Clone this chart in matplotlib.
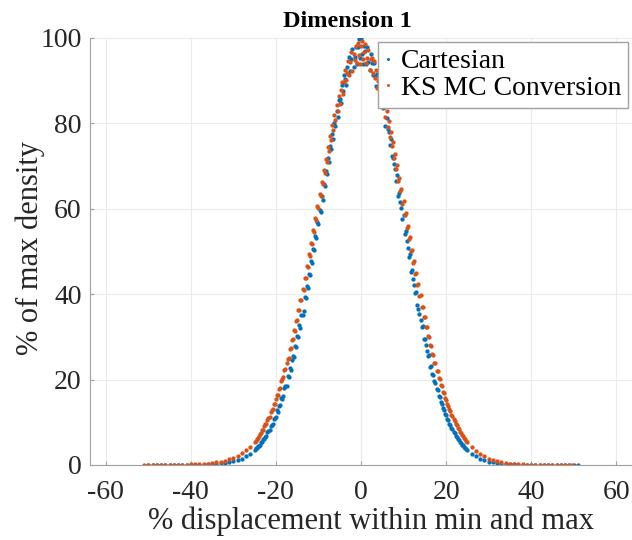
import numpy as np
import matplotlib
matplotlib.use("Agg")
from matplotlib import pyplot as plt

# Dados (densidade em % do maximo)
# Cartesian: caudas em passo 1, centro (-25 a 25) em passo 0.25
x_cart = np.concatenate([np.arange(-50, -25.5, 1.0), np.arange(-25, 25.1, 0.25), np.arange(26, 51.5, 1.0)])
y_cart_esq = [0.0, 0.0, 0.0, 0.0, 0.0, 0.01, 0.01, 0.02, 0.03, 0.04, 0.05, 0.06, 0.08, 0.1, 0.14,
              0.2, 0.28, 0.36, 0.5, 0.65, 0.85, 1.15, 1.5, 2.0, 2.65]
y_cart_meio = [3.4, 3.9, 3.9, 4.5, 4.5, 4.7, 5.3, 5.4,
               6.1, 6.0, 6.6, 6.8, 7.7, 7.9, 8.1, 9.2,
               9.4, 9.6, 10.8, 11.1, 11.3, 12.9, 12.5, 13.9,
               14.0, 15.6, 15.5, 16.1, 18.0, 18.4, 18.6, 20.9,
               20.5, 22.6, 22.3, 24.7, 25.5, 25.4, 27.9, 27.6,
               30.2, 30.0, 32.8, 32.2, 35.1, 35.2, 36.0, 39.4,
               39.0, 41.9, 41.5, 44.8, 44.5, 47.7, 47.2, 50.6,
               50.3, 53.6, 53.1, 56.8, 56.4, 59.7, 59.2, 62.9,
               62.1, 65.8, 65.3, 68.9, 68.2, 71.8, 71.0, 74.7,
               74.0, 77.5, 76.4, 80.2, 79.3, 82.9, 81.5, 85.4,
               85.7, 84.8, 89.0, 87.7, 91.4, 90.5, 89.1, 93.1,
               91.6, 95.6, 92.2, 95.1, 97.5, 93.2, 95.6, 98.0,
               93.9, 97.8, 99.8, 95.3, 100.0, 96.2, 94.0, 98.2,
               96.9, 93.9, 97.9, 94.3, 92.4, 96.3, 94.1, 91.3,
               94.2, 91.1, 88.7, 91.6, 88.6, 90.1, 85.7, 86.6,
               86.1, 83.6, 83.9, 79.4, 81.2, 78.6, 78.0, 75.0,
               76.4, 72.3, 72.0, 70.6, 69.4, 66.6, 68.0, 63.1,
               63.8, 61.5, 60.2, 57.6, 58.6, 54.1, 54.8, 52.4,
               50.9, 48.7, 49.3, 45.2, 45.6, 43.6, 42.1, 40.2,
               40.5, 37.5, 36.6, 35.3, 34.0, 32.4, 32.5, 29.6,
               29.6, 28.2, 26.8, 25.5, 25.7, 23.0, 23.3, 21.4,
               21.1, 19.6, 19.3, 17.9, 17.5, 16.2, 15.9, 14.7,
               14.4, 13.3, 12.9, 12.0, 11.7, 10.8, 10.5, 9.7,
               9.4, 8.6, 8.4, 7.7, 7.5, 6.9, 6.6, 6.1,
               5.9, 5.4, 5.2, 4.8, 4.6, 4.2, 4.0, 3.7,
               3.5]
y_cart_dir = [2.6, 2.0, 1.5, 1.1, 0.8, 0.6, 0.45, 0.32, 0.22, 0.16, 0.12, 0.08, 0.06, 0.05, 0.04,
              0.03, 0.02, 0.02, 0.02, 0.01, 0.01, 0.01, 0.0, 0.0, 0.0, 0.0]
y_cart = y_cart_esq + y_cart_meio + y_cart_dir

# KS MC Conversion
x_ks = np.concatenate([np.arange(-51, -25.5, 1.0), np.arange(-25, 25.1, 0.25), np.arange(26, 49.5, 1.0), [49.5]])
y_ks_esq = [0.0, 0.0, 0.01, 0.01, 0.02, 0.02, 0.03, 0.04, 0.05, 0.07, 0.09, 0.12, 0.15, 0.2,
            0.26, 0.34, 0.45, 0.6, 0.8, 1.0, 1.3, 1.7, 2.1, 2.7, 3.4, 4.3]
y_ks_meio = [5.5, 5.6, 6.2, 6.3, 6.9, 7.3, 7.4, 8.1,
             8.2, 9.1, 9.5, 9.6, 10.6, 10.9, 11.2, 12.4,
             12.8, 13.0, 14.3, 14.4, 15.5, 16.3, 16.4, 17.9,
             18.0, 19.6, 20.1, 20.5, 22.3, 22.4, 24.0, 24.8,
             25.1, 27.1, 27.3, 29.3, 29.4, 31.5, 31.3, 33.8,
             34.0, 36.2, 36.3, 38.6, 38.7, 41.2, 41.0, 43.8,
             43.9, 46.6, 46.4, 49.3, 49.0, 52.1, 51.8, 55.0,
             54.6, 57.8, 57.3, 60.6, 60.1, 63.4, 63.0, 66.3,
             65.7, 69.0, 68.4, 71.7, 71.0, 74.5, 73.6, 77.0,
             76.1, 79.6, 78.5, 81.9, 80.8, 84.4, 82.9, 86.5,
             84.5, 87.8, 89.6, 86.8, 89.8, 92.6, 90.1, 91.7,
             94.7, 91.4, 94.4, 96.8, 92.3, 96.3, 94.8, 98.2,
             94.2, 98.8, 96.0, 94.0, 98.1, 99.3, 95.1, 96.7,
             98.6, 94.1, 95.3, 97.3, 92.6, 95.1, 95.4, 91.7,
             94.6, 90.7, 92.5, 88.3, 90.0, 90.6, 87.0, 87.6,
             87.2, 83.8, 85.1, 81.5, 82.9, 79.2, 80.6, 76.9,
             78.0, 74.6, 75.6, 72.0, 72.9, 69.3, 70.3, 66.6,
             67.3, 64.1, 64.6, 61.1, 61.8, 58.5, 58.9, 55.6,
             56.0, 52.9, 53.3, 50.2, 50.4, 47.4, 47.7, 44.8,
             44.9, 42.2, 42.3, 39.6, 39.7, 37.1, 37.1, 34.7,
             34.7, 32.3, 32.3, 30.1, 30.0, 28.0, 27.9, 26.0,
             25.8, 24.0, 23.8, 22.1, 21.9, 20.4, 20.1, 18.7,
             18.4, 17.2, 16.8, 15.7, 15.3, 14.3, 13.9, 13.0,
             12.7, 11.8, 11.5, 10.7, 10.4, 9.7, 9.3, 8.7,
             8.4, 7.8, 7.5, 7.0, 6.7, 6.3, 6.0, 5.7,
             5.3]
y_ks_dir = [4.2, 3.3, 2.6, 2.0, 1.5, 1.15, 0.85, 0.62, 0.46, 0.34, 0.25, 0.18, 0.13, 0.1, 0.07,
            0.05, 0.04, 0.03, 0.02, 0.02, 0.01, 0.01, 0.0, 0.0, 0.0]
y_ks = y_ks_esq + y_ks_meio + y_ks_dir

series_names = ["Cartesian", "KS MC Conversion"]
x_ticks = [-60, -40, -20, 0, 20, 40, 60]
y_ticks = [0, 20, 40, 60, 80, 100]

plt.rcParams["font.family"] = ["Liberation Serif", "DejaVu Serif"]
plt.rcParams["axes.unicode_minus"] = False

W, H = 632, 540
fig = plt.figure(figsize=(W / 100, H / 100), dpi=100)
ax = fig.add_axes([90 / W, 75 / H, 542 / W, 427 / H])

ax.plot(x_cart, y_cart, "o", ms=3.1, mew=0, color="#0072BD", label=series_names[0])
ax.plot(x_ks, y_ks, "o", ms=3.1, mew=0, color="#D95319", label=series_names[1])

ax.set_xlim(-63.7, 63.7)
ax.set_ylim(0, 100)
ax.set_xticks(x_ticks)
ax.set_yticks(y_ticks)
ax.grid(True, color="#ebebeb", linewidth=0.8)
ax.set_axisbelow(True)

for s in ["top", "right"]:
    ax.spines[s].set_visible(False)
for s in ["left", "bottom"]:
    ax.spines[s].set_color("#a0a0a0")
ax.tick_params(direction="in", length=3, color="#a0a0a0", labelsize=20, labelcolor="#262626")
ax.tick_params(axis="x", pad=11)
ax.tick_params(axis="y", pad=6)

fig.text(347 / W, 1 - 27 / H, "Dimension 1", fontsize=17.5, fontweight="bold",
         ha="center", va="baseline", color="#000000")
ax.set_xlabel("% displacement within min and max", fontsize=22, color="#262626")
ax.xaxis.set_label_coords((371 - 90) / 542, (465 - 507) / 427)
ax.set_ylabel("% of max density", fontsize=22, color="#262626")
ax.yaxis.set_label_coords((45 - 90) / 542, (465 - 248) / 427)

leg = ax.legend(loc="upper right", bbox_to_anchor=(628 / W, 1 - 42 / H), bbox_transform=fig.transFigure,
                fontsize=20, markerscale=0.7, handlelength=0.2, handletextpad=0.35,
                borderpad=0.25, labelspacing=0.05, frameon=True, fancybox=False,
                framealpha=1, borderaxespad=0)
leg.get_frame().set_edgecolor("#a0a0a0")
leg.get_frame().set_linewidth(1.0)

fig.savefig("out.png", dpi=100)
